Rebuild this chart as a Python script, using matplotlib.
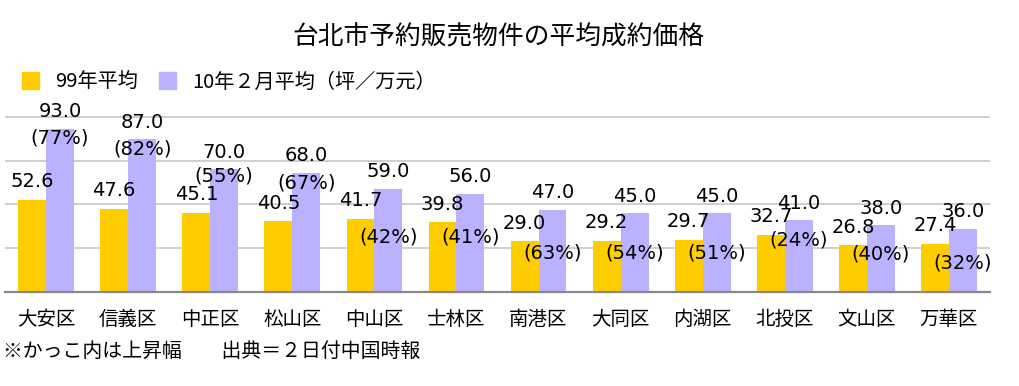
import numpy as np
import matplotlib
matplotlib.use('Agg')
import matplotlib.pyplot as plt
from matplotlib.patches import Patch

plt.rcParams['font.family'] = ['Noto Sans CJK JP', 'DejaVu Sans']

# data (万元 / 坪)
districts = ['大安区', '信義区', '中正区', '松山区', '中山区', '士林区',
             '南港区', '大同区', '内湖区', '北投区', '文山区', '万華区']
avg_99 = [52.6, 47.6, 45.1, 40.5, 41.7, 39.8, 29.0, 29.2, 29.7, 32.7, 26.8, 27.4]
avg_10feb = [93.0, 87.0, 70.0, 68.0, 59.0, 56.0, 47.0, 45.0, 45.0, 41.0, 38.0, 36.0]
rise_pct = [77, 82, 55, 67, 42, 41, 63, 54, 51, 24, 40, 32]

# where the "(xx%)" labels sit (data units), as in the original layout
pct_label_y = [88.1, 81.8, 65.9, 61.9, 31.3, 31.3, 22.2, 22.2, 22.2, 29.5, 21.6, 16.5]

c_99 = '#FFCC00'
c_10 = '#BAB2FF'

fig = plt.figure(figsize=(10.2, 3.86), dpi=100)
ax = fig.add_axes([0.005, 0.2435, 0.9655, 0.456])

x = np.arange(len(districts))
w = 0.34
ax.bar(x - w / 2, avg_99, width=w, color=c_99, zorder=2)
ax.bar(x + w / 2, avg_10feb, width=w, color=c_10, zorder=2)

for i in range(len(districts)):
    ax.annotate(f'{avg_99[i]:.1f}', (x[i] - w / 2, avg_99[i]), xytext=(0, 18),
                textcoords='offset pixels', ha='center', va='center',
                fontsize=14, family='DejaVu Sans', zorder=3)
    ax.annotate(f'{avg_10feb[i]:.1f}', (x[i] + w / 2, avg_10feb[i]), xytext=(0, 17),
                textcoords='offset pixels', ha='center', va='center',
                fontsize=14, family='DejaVu Sans', zorder=3)
    ax.text(x[i] + w / 2, pct_label_y[i], f'({rise_pct[i]}%)', ha='center',
            va='center', fontsize=14, family='DejaVu Sans', zorder=3)

ax.set_xlim(-0.5, len(districts) - 0.5)
ax.set_ylim(0, 100.4)
ax.set_yticks([25, 50, 75, 100])
ax.set_yticklabels([])
ax.grid(axis='y', color='#CCCCCC', linewidth=1.3, zorder=0)
ax.set_xticks(x)
ax.set_xticklabels(districts, fontsize=14)
ax.tick_params(axis='both', length=0)
ax.tick_params(axis='x', pad=12)
for s in ['top', 'left', 'right']:
    ax.spines[s].set_visible(False)
ax.spines['bottom'].set_color('#888888')
ax.spines['bottom'].set_linewidth(1.6)

fig.text(0.489, 0.903, '台北市予約販売物件の平均成約価格', ha='center', va='center',
         fontsize=18.5)

handles = [Patch(color=c_99, label='99年平均'),
           Patch(color=c_10, label='10年２月平均（坪／万元）')]
fig.legend(handles=handles, loc='center left', bbox_to_anchor=(0.0216, 0.7876),
           ncol=2, frameon=False, fontsize=14.5, handlelength=0.85,
           handleheight=0.9, handletextpad=0.8, columnspacing=1.05,
           borderpad=0, borderaxespad=0)

fig.text(0.003, 0.0907, '※かっこ内は上昇幅　　出典＝２日付中国時報', ha='left',
         va='center', fontsize=14.3)

fig.savefig('out.png', dpi=100)
